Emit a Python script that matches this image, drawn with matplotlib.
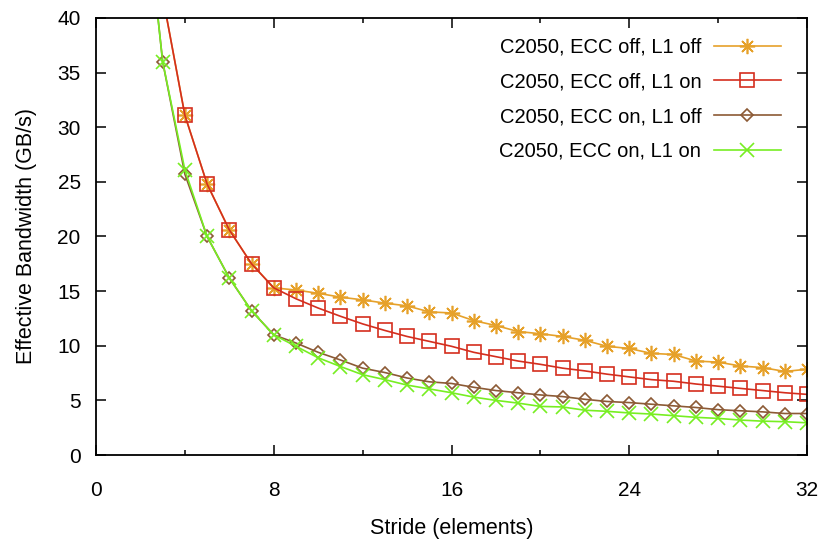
import numpy as np
import matplotlib
matplotlib.use("Agg")
import matplotlib.pyplot as plt
from matplotlib.ticker import MultipleLocator

plt.rcParams["font.family"] = ["Liberation Sans", "DejaVu Sans"]

stride = np.arange(2, 33)

# ECC off, L1 off
off_off = [62.0, 42.0, 31.1, 24.8, 20.6, 17.5, 15.3,
           15.1, 14.8, 14.45, 14.2, 13.9, 13.65, 13.1, 13.0,
           12.3, 11.85, 11.3, 11.1, 10.85, 10.5, 9.95, 9.75,
           9.3, 9.2, 8.6, 8.5, 8.15, 8.0, 7.65, 7.85]
# ECC off, L1 on
off_on = [62.0, 42.0, 31.1, 24.8, 20.6, 17.5, 15.3,
          14.3, 13.45, 12.7, 12.0, 11.4, 10.85, 10.4, 9.95,
          9.4, 9.0, 8.6, 8.3, 7.95, 7.7, 7.4, 7.15,
          6.9, 6.75, 6.5, 6.3, 6.1, 5.9, 5.7, 5.55]
# ECC on, L1 off
on_off = [55.0, 36.0, 25.7, 20.0, 16.2, 13.2, 11.0,
          10.25, 9.4, 8.7, 7.95, 7.55, 7.05, 6.7, 6.55,
          6.2, 5.9, 5.7, 5.5, 5.35, 5.1, 4.9, 4.8,
          4.65, 4.5, 4.35, 4.15, 4.05, 3.95, 3.8, 3.8]
# ECC on, L1 on
on_on = [55.0, 36.0, 26.1, 20.0, 16.2, 13.2, 11.0,
         9.95, 8.9, 8.1, 7.35, 6.9, 6.4, 6.05, 5.7,
         5.3, 5.0, 4.75, 4.45, 4.4, 4.1, 4.0, 3.85,
         3.75, 3.6, 3.45, 3.35, 3.2, 3.1, 3.05, 2.95]

labels = ["C2050, ECC off, L1 off", "C2050, ECC off, L1 on",
          "C2050, ECC on, L1 off", "C2050, ECC on, L1 on"]

fig = plt.figure(figsize=(8.24, 5.43), dpi=100)
ax = fig.add_axes([0.1165, 0.162, 0.8629, 0.805])

lw = 1.2
ax.plot(stride, off_off, color="#E6A12A", lw=lw, marker=(8, 2, 0), ms=11,
        mew=lw, label=labels[0])
ax.plot(stride, off_on, color="#D42E1E", lw=lw, marker="s", ms=9.5,
        mfc="none", mew=lw, label=labels[1])
ax.plot(stride, on_off, color="#8C5A35", lw=lw, marker="D", ms=6.5,
        mfc="none", mew=lw, label=labels[2])
ax.plot(stride, on_on, color="#77EE22", lw=lw, marker="x", ms=10,
        mew=lw, label=labels[3])

ax.set_xlim(0, 32)
ax.set_ylim(0, 40)
ax.xaxis.set_major_locator(MultipleLocator(8))
ax.xaxis.set_minor_locator(MultipleLocator(4))
ax.yaxis.set_major_locator(MultipleLocator(5))
ax.tick_params(which="both", direction="in", top=True, right=True,
               labelsize=15, width=1.1)
ax.tick_params(axis="x", which="both", pad=19)
ax.tick_params(axis="y", which="both", pad=11)
ax.tick_params(which="major", length=7.5)
ax.tick_params(which="minor", length=3.5)
for s in ax.spines.values():
    s.set_linewidth(1.3)

ax.set_xlabel("Stride (elements)", fontsize=15.5, labelpad=13)
ax.set_ylabel("Effective Bandwidth (GB/s)", fontsize=15.5, labelpad=15)

ax.legend(loc="upper right", frameon=False, markerfirst=False, fontsize=14.5,
          handlelength=3.3, handletextpad=0.65, labelspacing=0.78,
          borderpad=0, borderaxespad=0, bbox_to_anchor=(0.963, 0.955))

fig.savefig("out.png", dpi=100)
